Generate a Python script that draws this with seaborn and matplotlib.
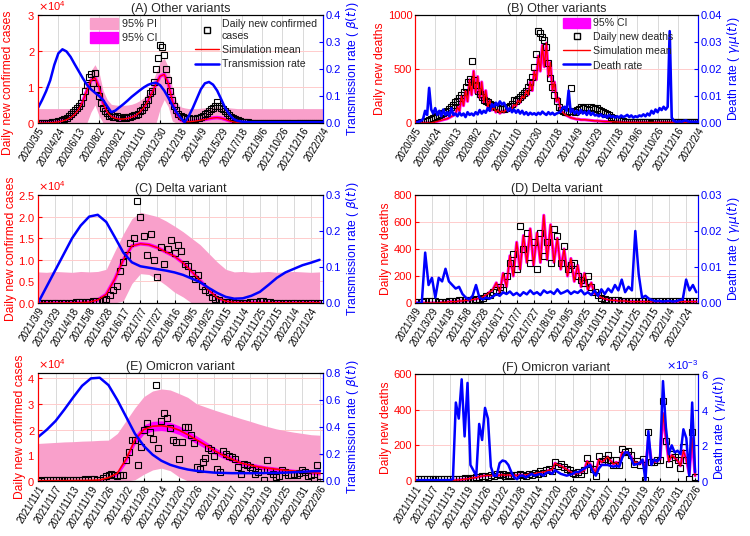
import numpy as np
import matplotlib
matplotlib.use("Agg")
import matplotlib.pyplot as plt
import seaborn as sns
from matplotlib.lines import Line2D
from matplotlib.patches import Patch

sns.set_style("ticks")
plt.rcParams['font.family'] = ['Liberation Sans', 'DejaVu Sans']

PINK = '#F9A0CB'
MAG = '#FF00FF'

# ---------------- tick labels ----------------
ticks_ab = ['2020/3/5', '2020/4/24', '2020/6/13', '2020/8/2', '2020/9/21', '2020/11/10',
            '2020/12/30', '2021/2/18', '2021/4/9', '2021/5/29', '2021/7/18', '2021/9/6',
            '2021/10/26', '2021/12/16', '2022/2/4']
ticks_cd = ['2021/3/9', '2021/3/29', '2021/4/18', '2021/5/8', '2021/5/28', '2021/6/17',
            '2021/7/7', '2021/7/27', '2021/8/16', '2021/9/5', '2021/9/25', '2021/10/15',
            '2021/11/4', '2021/11/25', '2021/12/15', '2022/1/4', '2022/1/24']
ticks_ef = ['2021/11/1', '2021/11/7', '2021/11/13', '2021/11/19', '2021/11/26', '2021/12/2',
            '2021/12/8', '2021/12/14', '2021/12/20', '2021/12/26', '2022/1/1', '2022/1/7',
            '2022/1/13', '2022/1/19', '2022/1/25', '2022/1/31', '2022/2/6']

# ---------------- (A) other variants, cases ----------------
# observed every 5 days, day 0 = 2020/3/5
obs_a = [0, 0, 10, 20, 50, 80, 120, 150, 200, 300,
         450, 600, 800, 1100, 1500, 1900, 2600, 3000, 3600, 4200,
         4800, 5500, 7200, 8800, 10500, 12800, 13500, 11000, 14000, 9500,
         7500, 5500, 4200, 3300, 2800, 2000, 2200, 1800, 1600, 1900,
         1500, 1400, 1700, 1500, 1800, 1600, 1900, 2100, 2300, 2600,
         3200, 3600, 4500, 5200, 6500, 8200, 9000, 11500, 15000, 18000,
         21800, 21000, 18800, 15000, 12000, 8800, 6500, 4800, 3500, 2600,
         2000, 1600, 1400, 1200, 1300, 1100, 1200, 1000, 1300, 1500,
         1700, 2000, 2400, 2900, 3300, 3800, 4200, 4600, 5800, 4800,
         4300, 3800, 3200, 2800, 2300, 1800, 1400, 1100, 800, 600,
         400, 300, 200, 150, 100, 80, 60, 50, 40, 30,
         30, 20, 20, 20, 20, 10, 10, 10, 10, 10,
         10, 10, 10, 10, 10, 10, 10, 10, 10, 10, 10, 10, 10, 10, 10, 10, 10, 10, 10, 10, 10]
# smooth series every 10 days
mean_a = [0, 0, 20, 60, 150, 300, 550, 900, 1500, 2400,
          3800, 6000, 9000, 11800, 12500, 10000, 5500, 3000, 1800, 1300,
          1100, 1100, 1300, 1600, 2100, 3000, 4300, 6100, 8400, 10800,
          13000, 13500, 11000, 6000, 2500, 900, 400, 350, 450, 600,
          800, 1000, 1200, 1400, 1500, 1350, 1000, 600, 300, 150,
          80, 40, 20, 10, 10, 10, 10, 10, 10, 10,
          10, 10, 10, 10, 10, 10, 10, 10, 10, 10, 10]
pi_hi_a = [4000, 4000, 4000, 4000, 4000, 4000, 4000, 4000, 4000, 4000,
           4200, 6000, 10000, 14500, 16200, 14000, 9000, 6500, 5200, 5000,
           4900, 4900, 5000, 5200, 5600, 6200, 7000, 8500, 11000, 14000,
           17000, 18000, 15500, 10000, 6000, 4500, 4200, 4000, 4000, 4000,
           4100, 4200, 4300, 4400, 4500, 4400, 4300, 4200, 4100, 4000,
           4000, 4000, 4000, 4000, 4000, 4000, 4000, 4000, 4000, 4000,
           4000, 4000, 4000, 4000, 4000, 4000, 4000, 4000, 4000, 4000, 4000]
pi_lo_a = [0, 0, 0, 0, 0, 0, 0, 0, 0, 0,
           0, 0, 0, 3000, 5000, 2000, 0, 0, 0, 0,
           0, 0, 0, 0, 0, 0, 0, 0, 0, 0,
           4000, 6500, 4500, 500, 0, 0, 0, 0, 0, 0,
           0, 0, 0, 0, 0, 0, 0, 0, 0, 0,
           0, 0, 0, 0, 0, 0, 0, 0, 0, 0,
           0, 0, 0, 0, 0, 0, 0, 0, 0, 0, 0]
beta_a = [0.056, 0.085, 0.118, 0.158, 0.215, 0.258, 0.273, 0.265, 0.245, 0.218,
          0.192, 0.166, 0.142, 0.125, 0.112, 0.1, 0.085, 0.062, 0.04, 0.046,
          0.058, 0.07, 0.083, 0.097, 0.109, 0.121, 0.132, 0.141, 0.147, 0.149,
          0.14, 0.12, 0.094, 0.065, 0.04, 0.02, 0.003, 0.025, 0.055, 0.09,
          0.125, 0.147, 0.152, 0.142, 0.12, 0.088, 0.055, 0.032, 0.015, 0.008,
          0.005, 0.004, 0.003, 0.003, 0.003, 0.003, 0.003, 0.003, 0.003, 0.003,
          0.003, 0.003, 0.003, 0.003, 0.003, 0.003, 0.003, 0.003, 0.003, 0.003, 0.003]

# ---------------- (B) other variants, deaths (every 5 days) ----------------
obs_b = [0, 0, 0, 5, 10, 15, 20, 25, 35, 45,
         55, 65, 75, 85, 95, 105, 115, 130, 150, 170,
         190, 200, 230, 260, 290, 330, 380, 410, 570, 400,
         350, 300, 270, 240, 210, 200, 190, 180, 170, 160,
         150, 140, 130, 130, 130, 140, 150, 160, 180, 210,
         200, 220, 240, 260, 280, 300, 330, 380, 430, 520,
         640, 850, 830, 800, 770, 700, 560, 420, 330, 260,
         200, 150, 120, 110, 100, 100, 110, 320, 110, 100,
         120, 130, 150, 140, 150, 130, 120, 150, 140, 130,
         140, 120, 110, 100, 90, 80, 70, 60, 50, 40,
         30, 25, 20, 15, 12, 10, 8, 6, 5, 5,
         5, 5, 5, 5, 5, 5, 5, 5, 5, 5,
         5, 5, 5, 5, 5, 5, 5, 5, 5, 5, 5, 5, 5, 5, 5, 5, 5, 5, 5, 5, 5]
mean_b = [0, 0, 0, 0, 0, 0, 0, 0, 0, 5,
          10, 15, 20, 25, 30, 35, 40, 50, 60, 70,
          80, 150, 110, 250, 160, 300, 200, 400, 260, 480,
          280, 430, 230, 380, 190, 300, 150, 210, 120, 150,
          100, 120, 90, 110, 100, 120, 110, 140, 130, 170,
          160, 210, 190, 250, 230, 300, 260, 380, 300, 480,
          400, 620, 480, 720, 520, 740, 430, 560, 300, 380,
          200, 230, 120, 100, 80, 70, 60, 50, 45, 40,
          35, 35, 30, 30, 30, 28, 25, 25, 22, 20,
          20, 18, 16, 15, 14, 12, 12, 10, 10, 10,
          8, 8, 8, 6, 6, 6, 5, 5, 5, 5,
          5, 5, 5, 5, 5, 5, 5, 5, 5, 5,
          5, 5, 5, 5, 5, 5, 5, 5, 5, 5, 5, 5, 5, 5, 5, 5, 5, 5, 5, 5, 5]
rate_b = [0.2, 0.3, 0.5, 0.8, 1.5, 4.5, 3.0, 13.0, 5.0, 3.5,
          5.5, 3.0, 4.5, 2.5, 5.0, 3.0, 4.0, 2.5, 5.5, 3.0,
          3.5, 2.5, 3.8, 2.8, 3.5, 2.2, 4.0, 3.0, 3.5, 2.8,
          4.0, 3.2, 4.8, 3.5, 4.5, 3.8, 5.5, 4.5, 7.0, 6.0,
          7.5, 6.5, 8.0, 6.8, 7.5, 6.0, 4.5, 5.5, 4.0, 5.0,
          3.8, 4.8, 3.5, 4.5, 3.2, 4.0, 3.0, 3.8, 3.2, 3.6,
          3.0, 3.8, 3.2, 4.2, 3.5, 3.0, 4.0, 3.2, 3.8, 3.0,
          3.5, 3.8, 4.2, 5.5, 6.0, 4.5, 12.0, 4.0, 5.0, 3.5,
          4.5, 3.2, 4.8, 3.5, 4.2, 3.0, 4.5, 3.0, 3.8, 2.8,
          3.0, 2.5, 3.2, 2.2, 2.8, 2.0, 3.0, 2.2, 2.6, 2.0,
          2.5, 2.0, 2.8, 2.2, 2.5, 3.0, 2.2, 2.8, 2.0, 2.5,
          2.2, 2.8, 2.5, 3.2, 2.5, 3.5, 2.8, 4.5, 3.5, 5.0,
          4.0, 5.5, 4.8, 6.0, 5.0, 6.0, 34.0, 2.0, 0.8, 0.5,
          0.5, 0.6, 0.5, 0.8, 1.0, 0.6, 0.5, 0.5, 0.4, 0.5, 0.4]  # x 1e-3

# ---------------- (C) delta, cases ----------------
# observed every 4 days, day 0 = 2021/3/9
obs_c = [30, 30, 30, 40, 40, 50, 50, 60, 60, 80,
         100, 120, 150, 200, 250, 300, 350, 400, 500, 600,
         900, 1800, 3000, 4000, 7500, 9500, 11000, 14000, 15000, 23500,
         20000, 15500, 11000, 16000, 10000, 6000, 13000, 9000, 12500, 14500,
         11500, 13500, 12000, 9000, 8500, 7000, 5500, 6500, 4000, 3000,
         2500, 1500, 1000, 600, 300, 200, 150, 150,
         100, 100, 100, 100, 150, 200, 300, 500, 400, 200, 150, 100, 100, 100,
         100, 100, 80, 80, 80, 80, 80, 80, 80, 80, 80, 80]
# smooth series every 10 days
mean_c = [0, 10, 20, 40, 60, 100, 200, 700, 2000, 5500,
          10000, 13200, 13700, 13500, 12800, 11800, 10800, 9300, 7300, 5200,
          3000, 1200, 400, 150, 100, 100, 100, 100, 100, 100,
          100, 100, 100, 100]
pi_hi_c = [7200, 7100, 7300, 7200, 7100, 7300, 7200, 7300, 7800, 12000,
           16000, 19500, 21000, 20500, 20000, 19000, 17800, 16500, 15000, 13500,
           11500, 9500, 7800, 7200, 7300, 7100, 7200, 7300, 7100, 7200,
           7300, 7200, 7100, 7200]
pi_lo_c = [0, 0, 0, 0, 0, 0, 0, 0, 0, 0,
           500, 4500, 6800, 6600, 5500, 4100, 2500, 1400, 0, 0,
           0, 0, 0, 0, 0, 0, 0, 0, 0, 0,
           0, 0, 0, 0]
beta_c = [0.0, 0.045, 0.09, 0.135, 0.18, 0.215, 0.24, 0.245, 0.225, 0.183,
          0.14, 0.113, 0.102, 0.098, 0.094, 0.09, 0.085, 0.078, 0.068, 0.058,
          0.042, 0.028, 0.017, 0.012, 0.013, 0.02, 0.031, 0.05, 0.07, 0.085,
          0.095, 0.105, 0.112, 0.12]

# ---------------- (D) delta, deaths (every 4 days) ----------------
obs_d = [10, 10, 10, 15, 15, 15, 15, 10, 10, 10,
         15, 15, 15, 20, 20, 20, 20, 25, 30, 30,
         40, 50, 60, 80, 100, 120, 100, 200, 300, 360,
         250, 570, 400, 520, 300, 450, 250, 520, 350, 450,
         300, 550, 500, 300, 420, 250, 280, 300, 200, 170,
         150, 200, 120, 80, 60, 40,
         30, 25, 20, 20, 20, 15, 15, 15, 15, 15, 15, 15, 15, 15,
         15, 15, 15, 15, 15, 15, 15, 15, 15, 15, 15, 15, 15, 15]
mean_d = [0, 0, 0, 0, 0, 0, 0, 0, 5, 5,
          10, 10, 10, 15, 15, 20, 20, 25, 30, 35,
          45, 60, 80, 100,
          150, 80, 220, 120, 350, 200, 450, 250, 500, 300,
          550, 280, 520, 300, 650, 320, 580, 300, 480, 250,
          400, 200, 330, 160, 280, 120, 220, 100, 150, 70,
          60, 40,
          30, 25, 20, 20, 15, 15, 15, 10, 10, 10, 10, 10, 10, 10,
          10, 10, 10, 10, 10, 10, 10, 10, 10, 10, 10, 10, 10, 10]
rate_d = [0, 0, 0, 14, 5, 7, 1.5, 7, 6, 9.5,
          6, 5, 4, 4.5, 2.5, 1.5, 1.0, 2.0, 5.0, 1.5,
          1.0, 1.5, 1.2, 1.8, 2.5, 2.0, 3.0, 2.5, 3.2, 2.2,
          2.8, 2.0, 3.0, 2.4, 3.5, 2.5, 3.0, 2.2, 3.5, 2.8,
          3.2, 2.5, 3.8, 2.6, 3.0, 3.5, 2.5, 3.2, 2.8, 3.6,
          2.4, 3.0, 2.2, 3.5, 2.0, 3.8, 2.5, 4.0, 3.0, 5.0,
          3.5, 6.5, 3.0, 4.5, 3.5, 20.0, 8.0, 1.5, 2.0, 1.2,
          0.8, 0.5, 0.6, 0.4, 0.5, 0.6, 0.4, 0.5, 0.8, 1.0,
          6.5, 3.5, 5.0, 3.0]  # x 1e-3

# ---------------- (E) omicron, cases ----------------
# observed daily, day 0 = 2021/11/1
obs_e = [200, 150, 200, 250, 200, 250, 300, 250, 300, 350,
         300, 350, 400, 350, 400, 450, 600, 500, 800, 700,
         300, 500, 1200, 2000, 2200, 2600, 2200, 2000, 2500, 2300,
         8000, 11300, 15900, 15900, 6100, 13300, 19800, 22400, 19000, 16500,
         37400, 13000, 23500, 26300, 24400, 20500, 15900, 15200, 8700, 15200,
         21100, 21100, 17800, 14800, 5500, 4800, 7400, 9100, 13000, 12000,
         9600, 4800, 3500, 11700, 10500, 9600, 9400, 8700, 5500, 2900,
         6800, 6100, 5500, 4200, 2600, 3500, 4200, 300, 8300, 3900,
         2600, 1600, 1800, 4200, 3500, 2200, 2200, 2600, 2200, 3000,
         4200, 3500, 1800, 2500, 500, 6100, 1800]
# smooth series every 3 days
mean_e = [100, 100, 120, 150, 150, 200, 250, 400, 1300, 3000,
          8500, 16000, 20000, 21300, 21500, 21000, 19800, 18000, 16000, 14000,
          11800, 10000, 8500, 7000, 6200, 5500, 5000, 4600, 4200, 3900,
          3600, 3300, 3000]
ci_hw_e = [100, 100, 100, 100, 100, 100, 100, 200, 500, 1000,
           1400, 1700, 1800, 1900, 1900, 1800, 1700, 1600, 1500, 1400,
           1300, 1200, 1100, 1000, 950, 900, 850, 800, 750, 700,
           700, 700, 700]
pi_hi_e = [14600, 14800, 15000, 15200, 15300, 15500, 15600, 15800, 15900, 18500,
           23500, 28500, 32800, 35000, 35800, 35400, 34000, 32500, 30000, 28800,
           27600, 26500, 25400, 24300, 23300, 22200, 21200, 20300, 19600, 19000,
           18500, 18000, 17800]
pi_lo_e = [0, 0, 0, 0, 0, 0, 0, 0, 0, 0,
           0, 500, 2600, 4300, 5000, 4000, 1600, 0, 0, 0,
           0, 0, 0, 0, 0, 0, 0, 0, 0, 0,
           0, 0, 0]
beta_e = [0.325, 0.38, 0.445, 0.53, 0.62, 0.705, 0.76, 0.765, 0.71, 0.6,
          0.475, 0.35, 0.26, 0.195, 0.15, 0.12, 0.1, 0.085, 0.075, 0.068,
          0.062, 0.06, 0.058, 0.058, 0.058, 0.058, 0.06, 0.06, 0.062, 0.065,
          0.068, 0.072, 0.075]

# ---------------- (F) omicron, deaths (daily) ----------------
obs_f = [10, 10, 10, 10, 10, 10, 10, 10, 10, 10, 10, 10, 10, 10,
         10, 12, 13, 15, 12, 15, 18, 20, 25, 28, 30, 25, 35, 30, 40, 35,
         40, 30, 35, 30, 35, 32, 38, 32, 30, 40, 35, 45, 40, 55, 45, 60,
         70, 55, 106, 85, 97, 78, 65, 60, 45, 37, 50, 41, 60, 130, 97, 70,
         26, 138, 110, 125, 143, 120, 88, 115, 88, 180, 162, 171, 143, 97, 110, 88,
         125, 4, 274, 106, 106, 115, 115, 447, 227, 97, 153, 134, 115, 75, 190, 115,
         13, 274, 22]
mean_f = [2, 2, 2, 2, 2, 2, 2, 2, 2, 2, 3, 3, 3, 3,
          5, 6, 8, 10, 12, 15, 18, 20, 25, 28, 30, 32, 30, 35, 30, 33, 35,
          32, 35, 30, 33, 30, 35, 32, 35, 38, 40, 42, 45, 48, 50, 55, 60, 65,
          100, 90, 85, 75, 65, 55, 45, 40, 45, 50, 60, 110, 95, 70, 50, 120, 105,
          120, 135, 115, 95, 105, 90, 160, 155, 160, 140, 105, 105, 95, 115, 70, 230, 115,
          105, 115, 120, 380, 240, 110, 145, 130, 115, 85, 170, 120, 40, 240, 30]
rate_f = [0.05, 0.05, 0.05, 0.05, 0.05, 0.05, 0.05, 0.05, 0.05, 0.05, 0.05, 0.05, 0.05,
          0.1, 4.4, 3.5, 5.7, 2.5, 5.5, 0.9, 0.6, 0.3, 3.2, 2.3, 4.1, 3.5, 0.8,
          0.3, 0.3, 1.0, 1.15, 1.1, 0.9, 0.5, 0.2, 0.1, 0.3, 0.3, 0.2, 0.3, 0.4,
          0.3, 0.35, 0.4, 0.3, 0.45, 0.5, 0.4, 0.6, 0.5, 0.4, 0.35, 0.3, 0.35, 0.4,
          0.5, 0.5, 0.6, 0.7, 0.8, 0.9, 0.5, 0.3, 0.7, 0.9, 0.9, 0.9, 0.85, 0.8,
          0.85, 0.8, 1.3, 1.6, 1.6, 1.3, 0.9, 0.95, 1.0, 1.2, 0.05, 2.8, 0.9, 1.2,
          1.1, 1.3, 5.6, 3.0, 1.5, 2.0, 1.6, 1.7, 1.5, 2.9, 2.4, 0.3, 4.4, 0.5]  # x 1e-3

# x grids
x_a5 = np.arange(len(obs_a)) * 5
x_a10 = np.arange(len(mean_a)) * 10
x_c4 = np.arange(len(obs_c)) * 4
x_c10 = np.arange(len(mean_c)) * 10
x_e1 = np.arange(len(obs_e))
x_e3 = np.arange(len(mean_e)) * 3

fig = plt.figure(figsize=(7.5, 5.36), dpi=100)


def make_axes(l, t, r, b):
    ax = fig.add_axes([l / 750, 1 - b / 536, (r - l) / 750, (b - t) / 536])
    ax2 = ax.twinx()
    return ax, ax2


def style(ax, ax2, step, labels, xmax, ylim, yticks, ylim2, yticks2, title, ylab, ylab2):
    ax.set_xlim(0, xmax)
    ax.set_xticks(np.arange(len(labels)) * step)
    ax.set_xticklabels(labels, rotation=58, ha='right', rotation_mode='anchor', fontsize=7)
    ax.set_ylim(*ylim)
    ax.set_yticks(yticks)
    ax2.set_ylim(*ylim2)
    ax2.set_yticks(yticks2)
    ax.set_axisbelow(True)
    ax.xaxis.grid(True, color='0.85', lw=0.7)
    ax.yaxis.grid(True, color='#FFCCCC', lw=0.7)
    ax.tick_params(axis='x', direction='in', length=2.5, pad=2, colors='black')
    ax.tick_params(axis='y', direction='in', length=3, labelsize=8, colors='red', pad=2)
    ax2.tick_params(axis='y', direction='in', length=3, labelsize=8, colors='blue', pad=2)
    for a in (ax, ax2):
        a.spines['top'].set_color('black')
        a.spines['bottom'].set_color('black')
        a.spines['left'].set_color('red')
        a.spines['right'].set_color('blue')
        for s in a.spines.values():
            s.set_linewidth(0.8)
    ax.set_title(title, fontsize=9, pad=2)
    ax.set_ylabel(ylab, color='red', fontsize=8.7, labelpad=1)
    ax2.set_ylabel(ylab2, color='blue', fontsize=8.7, labelpad=2)
    ax.set_xlabel('')


def squares(ax, x, y):
    ax.plot(x, y, ls='none', marker='s', ms=4.3, mfc='none', mec='black', mew=0.8)


lab_beta = r'Transmission rate ( $\beta(t)$)'
lab_gamma = r'Death rate ( $\gamma_I\mu(t)$)'

# ---- A ----
axA, axA2 = make_axes(38, 15, 323, 123)
axA.fill_between(x_a10, pi_lo_a, pi_hi_a, color=PINK, lw=0)
sns.lineplot(x=x_a10, y=mean_a, ax=axA, color=MAG, lw=2.6)
squares(axA, x_a5, obs_a)
sns.lineplot(x=x_a10, y=mean_a, ax=axA, color='red', lw=1)
sns.lineplot(x=x_a10, y=beta_a, ax=axA2, color='blue', lw=1.8)
style(axA, axA2, 50, ticks_ab, 700, (0, 30000), [0, 10000, 20000, 30000], (0, 0.4),
      [0, 0.1, 0.2, 0.3, 0.4], '(A) Other variants', 'Daily new confirmed cases', lab_beta)
axA.yaxis.set_label_coords(-0.085, 0.37)

# ---- B ----
axB, axB2 = make_axes(415, 15, 698, 123)
sns.lineplot(x=x_a5, y=mean_b, ax=axB, color=MAG, lw=2.2)
squares(axB, x_a5, obs_b)
sns.lineplot(x=x_a5, y=mean_b, ax=axB, color='red', lw=1)
sns.lineplot(x=x_a5, y=np.array(rate_b) * 1e-3, ax=axB2, color='blue', lw=1.9)
style(axB, axB2, 50, ticks_ab, 700, (0, 1000), [0, 500, 1000], (0, 0.04),
      [0, 0.01, 0.02, 0.03, 0.04], '(B) Other variants', 'Daily new deaths', lab_gamma)

# ---- C ----
axC, axC2 = make_axes(38, 195, 323, 303)
axC.fill_between(x_c10, pi_lo_c, pi_hi_c, color=PINK, lw=0)
sns.lineplot(x=x_c10, y=mean_c, ax=axC, color=MAG, lw=2.6)
squares(axC, x_c4, obs_c)
sns.lineplot(x=x_c10, y=mean_c, ax=axC, color='red', lw=1)
sns.lineplot(x=x_c10, y=beta_c, ax=axC2, color='blue', lw=1.8)
style(axC, axC2, 20, ticks_cd, 334, (0, 25000), [0, 5000, 10000, 15000, 20000, 25000],
      (0, 0.3), [0, 0.1, 0.2, 0.3], '(C) Delta variant', 'Daily new confirmed cases', lab_beta)

# ---- D ----
axD, axD2 = make_axes(415, 195, 698, 303)
sns.lineplot(x=x_c4, y=mean_d, ax=axD, color=MAG, lw=2.2)
squares(axD, x_c4, obs_d)
sns.lineplot(x=x_c4, y=mean_d, ax=axD, color='red', lw=1)
sns.lineplot(x=x_c4, y=np.array(rate_d) * 1e-3, ax=axD2, color='blue', lw=1.8)
style(axD, axD2, 20, ticks_cd, 334, (0, 800), [0, 200, 400, 600, 800], (0, 0.03),
      [0, 0.01, 0.02, 0.03], '(D) Delta variant', 'Daily new deaths', lab_gamma)

# ---- E ----
axE, axE2 = make_axes(38, 373, 323, 481)
axE.fill_between(x_e3, pi_lo_e, pi_hi_e, color=PINK, lw=0)
axE.fill_between(x_e3, np.array(mean_e) - np.array(ci_hw_e), np.array(mean_e) + np.array(ci_hw_e),
                 color=MAG, lw=0)
squares(axE, x_e1, obs_e)
sns.lineplot(x=x_e3, y=mean_e, ax=axE, color='red', lw=1.2)
sns.lineplot(x=x_e3, y=beta_e, ax=axE2, color='blue', lw=1.8)
style(axE, axE2, 6, ticks_ef, 97, (0, 42000), [0, 10000, 20000, 30000, 40000], (0, 0.8),
      [0, 0.2, 0.4, 0.6, 0.8], '(E) Omicron variant', 'Daily new confirmed cases', lab_beta)

# ---- F ----
axF, axF2 = make_axes(415, 374, 698, 481)
sns.lineplot(x=x_e1, y=mean_f, ax=axF, color=MAG, lw=2.2)
squares(axF, x_e1, obs_f)
sns.lineplot(x=x_e1, y=mean_f, ax=axF, color='red', lw=1)
sns.lineplot(x=x_e1, y=np.array(rate_f) * 1e-3, ax=axF2, color='blue', lw=1.8)
style(axF, axF2, 6, ticks_ef, 97, (0, 600), [0, 200, 400, 600], (0, 0.006),
      [0, 0.002, 0.004, 0.006], '(F) Omicron variant', 'Daily new deaths', lab_gamma)

# scientific offsets (x10^4, x10^-3)
for a in (axA, axC, axE):
    a.ticklabel_format(axis='y', style='sci', scilimits=(0, 0), useMathText=True)
    a.yaxis.get_offset_text().set_color('red')
    a.yaxis.get_offset_text().set_fontsize(8)
axF2.ticklabel_format(axis='y', style='sci', scilimits=(0, 0), useMathText=True)
axF2.yaxis.get_offset_text().set_color('blue')
axF2.yaxis.get_offset_text().set_fontsize(8)

# ---- legends ----
leg1 = axA2.legend(handles=[Patch(color=PINK, label='95% PI'), Patch(color=MAG, label='95% CI')],
                   loc='upper left', bbox_to_anchor=(0.16, 1.03), frameon=False, fontsize=7.8,
                   handlelength=2.6, handleheight=1.1, labelspacing=0.3, handletextpad=0.3,
                   borderaxespad=0.2)
axA2.add_artist(leg1)
axA2.legend(handles=[Line2D([], [], ls='none', marker='s', ms=4.3, mfc='none', mec='black',
                            label='Daily new confirmed\ncases'),
                     Line2D([], [], color='red', lw=1, label='Simulation mean'),
                     Line2D([], [], color='blue', lw=1.8, label='Transmission rate')],
            loc='upper left', bbox_to_anchor=(0.53, 1.02), frameon=False, fontsize=7.6,
            handlelength=2.2, labelspacing=0.4, handletextpad=0.3, borderaxespad=0.2)
axB2.legend(handles=[Patch(color=MAG, label='95% CI'),
                     Line2D([], [], ls='none', marker='s', ms=4.3, mfc='none', mec='black',
                            label='Daily new deaths'),
                     Line2D([], [], color='red', lw=1, label='Simulation mean'),
                     Line2D([], [], color='blue', lw=1.8, label='Death rate')],
            loc='upper left', bbox_to_anchor=(0.5, 1.03), frameon=False, fontsize=7.6,
            handlelength=2.6, handleheight=1.0, labelspacing=0.35, handletextpad=0.3,
            borderaxespad=0.2)

fig.savefig('out.png', dpi=100)
